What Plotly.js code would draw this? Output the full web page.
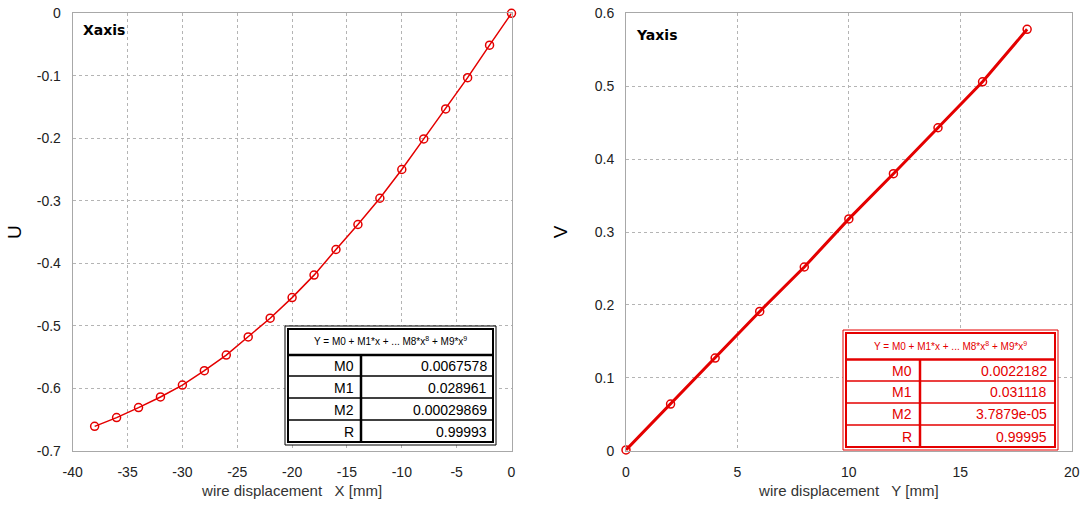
<!DOCTYPE html>
<html>
<head>
<meta charset="utf-8">
<script src="https://cdn.plot.ly/plotly-3.0.1.min.js"></script>
<style>html,body{margin:0;padding:0;background:#fff;}#chart{width:1084px;height:507px;}</style>
</head>
<body>
<div id="chart"></div>
<script>
// ---- data ----
const xDisp = [-38,-36,-34,-32,-30,-28,-26,-24,-22,-20,-18,-16,-14,-12,-10,-8,-6,-4,-2,0];
const uVals = [-0.661,-0.647,-0.631,-0.614,-0.595,-0.572,-0.547,-0.518,-0.488,-0.455,-0.419,-0.378,-0.338,-0.296,-0.250,-0.201,-0.153,-0.103,-0.051,0];
const yDisp = [0,2,4,6,8,10,12,14,16,18];
const vVals = [0.001,0.064,0.127,0.191,0.252,0.318,0.380,0.443,0.506,0.578];

const xTicksL = [-40,-35,-30,-25,-20,-15,-10,-5,0];
const xTickTextL = ['-40','-35','-30','-25','-20','-15','-10','-5','0'];
const yTicksL = [-0.7,-0.6,-0.5,-0.4,-0.3,-0.2,-0.1,0];
const yTickTextL = ['-0.7','-0.6','-0.5','-0.4','-0.3','-0.2','-0.1','0'];
const xTicksR = [0,5,10,15,20];
const yTicksR = [0,0.1,0.2,0.3,0.4,0.5,0.6];

const fitHeader = 'Y = M0 + M1*x + ... M8*x<sup>8</sup> + M9*x<sup>9</sup>';
const fitNames = ['M0','M1','M2','R'];
const fitValsX = ['0.0067578','0.028961','0.00029869','0.99993'];
const fitValsY = ['0.0022182','0.031118','3.7879e-05','0.99995'];

// ---- layout helpers (pixel -> paper) ----
const W = 1084, H = 507;
const px = x => x / W;
const py = y => 1 - y / H;
const red = 'rgb(228,0,0)';
const gridC = '#b4b4b4';
const frameC = '#a8a8a8';
const font = 'Liberation Sans, Arial, sans-serif';

const traces = [
  {x: xDisp, y: uVals, xaxis: 'x', yaxis: 'y', type: 'scatter', mode: 'lines+markers', cliponaxis: false,
   line: {color: red, width: 1.5},
   marker: {symbol: 'circle-open', size: 8, color: red, line: {width: 1.5, color: red}},
   hoverinfo: 'x+y', showlegend: false},
  {x: yDisp, y: vVals, xaxis: 'x2', yaxis: 'y2', type: 'scatter', mode: 'lines+markers', cliponaxis: false,
   line: {color: red, width: 3},
   marker: {symbol: 'circle-open', size: 8, color: red, line: {width: 1.5, color: red}},
   hoverinfo: 'x+y', showlegend: false}
];

function axisCommon() {
  return {showgrid: true, gridcolor: gridC, griddash: 'dot', gridwidth: 1,
    showline: true, linecolor: frameC, linewidth: 1, mirror: true,
    zeroline: false, ticks: 'outside', ticklen: 8, tickcolor: 'rgba(0,0,0,0)',
    tickfont: {family: font, size: 14, color: '#222'}, fixedrange: true, automargin: false};
}

const shapes = [];
const annotations = [];

function table(x0, y0, x1, y1, colX, headerBot, rowLines, color, vals, lblRight, valRight, hdrY, rowCenters, hdrCx) {
  shapes.push({type: 'rect', xref: 'paper', yref: 'paper', x0: px(x0), x1: px(x1), y0: py(y0), y1: py(y1),
    line: {color: color, width: 1}, fillcolor: 'white', layer: 'above'});
  shapes.push({type: 'rect', xref: 'paper', yref: 'paper', x0: px(x0 + 3), x1: px(x1 - 3), y0: py(y0 + 3), y1: py(y1 - 3),
    line: {color: color, width: 2}, layer: 'above'});
  shapes.push({type: 'line', xref: 'paper', yref: 'paper', x0: px(x0 + 3), x1: px(x1 - 3), y0: py(headerBot), y1: py(headerBot),
    line: {color: color, width: 2.5}, layer: 'above'});
  rowLines.forEach(r => shapes.push({type: 'line', xref: 'paper', yref: 'paper', x0: px(x0 + 3), x1: px(x1 - 3), y0: py(r), y1: py(r),
    line: {color: color, width: 1.5}, layer: 'above'}));
  shapes.push({type: 'line', xref: 'paper', yref: 'paper', x0: px(colX), x1: px(colX), y0: py(headerBot), y1: py(y1 - 3),
    line: {color: color, width: 2.5}, layer: 'above'});
  annotations.push({xref: 'paper', yref: 'paper', x: px(hdrCx), y: py(hdrY), text: fitHeader, showarrow: false,
    xanchor: 'center', yanchor: 'middle', font: {family: font, size: 10, color: color}});
  fitNames.forEach((n, i) => {
    annotations.push({xref: 'paper', yref: 'paper', x: px(lblRight), y: py(rowCenters[i]), text: n, showarrow: false,
      xanchor: 'right', yanchor: 'middle', font: {family: font, size: 14, color: color}});
    annotations.push({xref: 'paper', yref: 'paper', x: px(valRight), y: py(rowCenters[i]), text: vals[i], showarrow: false,
      xanchor: 'right', yanchor: 'middle', font: {family: font, size: 14, color: color}});
  });
}

table(285, 326, 496, 445, 361, 355, [376, 398, 420], '#000', fitValsX, 356, 489, 341, [366, 387.5, 409.5, 431.5], 390);
table(843, 330, 1058, 450, 920, 359.5, [381, 403, 425], red, fitValsY, 914, 1049, 346, [370.5, 392, 414, 436.5], 950);

annotations.push({xref: 'paper', yref: 'paper', x: px(81), y: py(30), text: '<b>Xaxis</b>', showarrow: false,
  xanchor: 'left', yanchor: 'middle', font: {family: 'DejaVu Sans, sans-serif', size: 14, color: '#000'}});
annotations.push({xref: 'paper', yref: 'paper', x: px(634), y: py(35), text: '<b>Yaxis</b>', showarrow: false,
  xanchor: 'left', yanchor: 'middle', font: {family: 'DejaVu Sans, sans-serif', size: 14, color: '#000'}});

const layout = {
  width: W, height: H,
  margin: {l: 0, r: 0, t: 0, b: 0},
  paper_bgcolor: '#fff', plot_bgcolor: '#fff',
  showlegend: false,
  xaxis: Object.assign(axisCommon(), {domain: [px(72.7), px(511.5)], range: [-40, 0], tickvals: xTicksL, ticktext: xTickTextL, anchor: 'y',
    title: {text: 'wire displacement   X [mm]', font: {family: font, size: 15, color: '#333'}, standoff: 6}}),
  yaxis: Object.assign(axisCommon(), {domain: [py(450.7), py(13.3)], range: [-0.7, 0], tickvals: yTicksL, ticktext: yTickTextL, anchor: 'x',
    title: {text: 'U', font: {family: font, size: 19, color: '#000'}, standoff: 10}}),
  xaxis2: Object.assign(axisCommon(), {domain: [px(626), px(1071.7)], range: [0, 20], tickvals: xTicksR, anchor: 'y2',
    title: {text: 'wire displacement   Y [mm]', font: {family: font, size: 15, color: '#333'}, standoff: 6}}),
  yaxis2: Object.assign(axisCommon(), {domain: [py(450.7), py(13.3)], range: [0, 0.6], tickvals: yTicksR, anchor: 'x2',
    title: {text: 'V', font: {family: font, size: 19, color: '#000'}, standoff: 22}}),
  shapes: shapes,
  annotations: annotations
};

Plotly.newPlot('chart', traces, layout, {displayModeBar: false, staticPlot: true});
</script>
</body>
</html>
